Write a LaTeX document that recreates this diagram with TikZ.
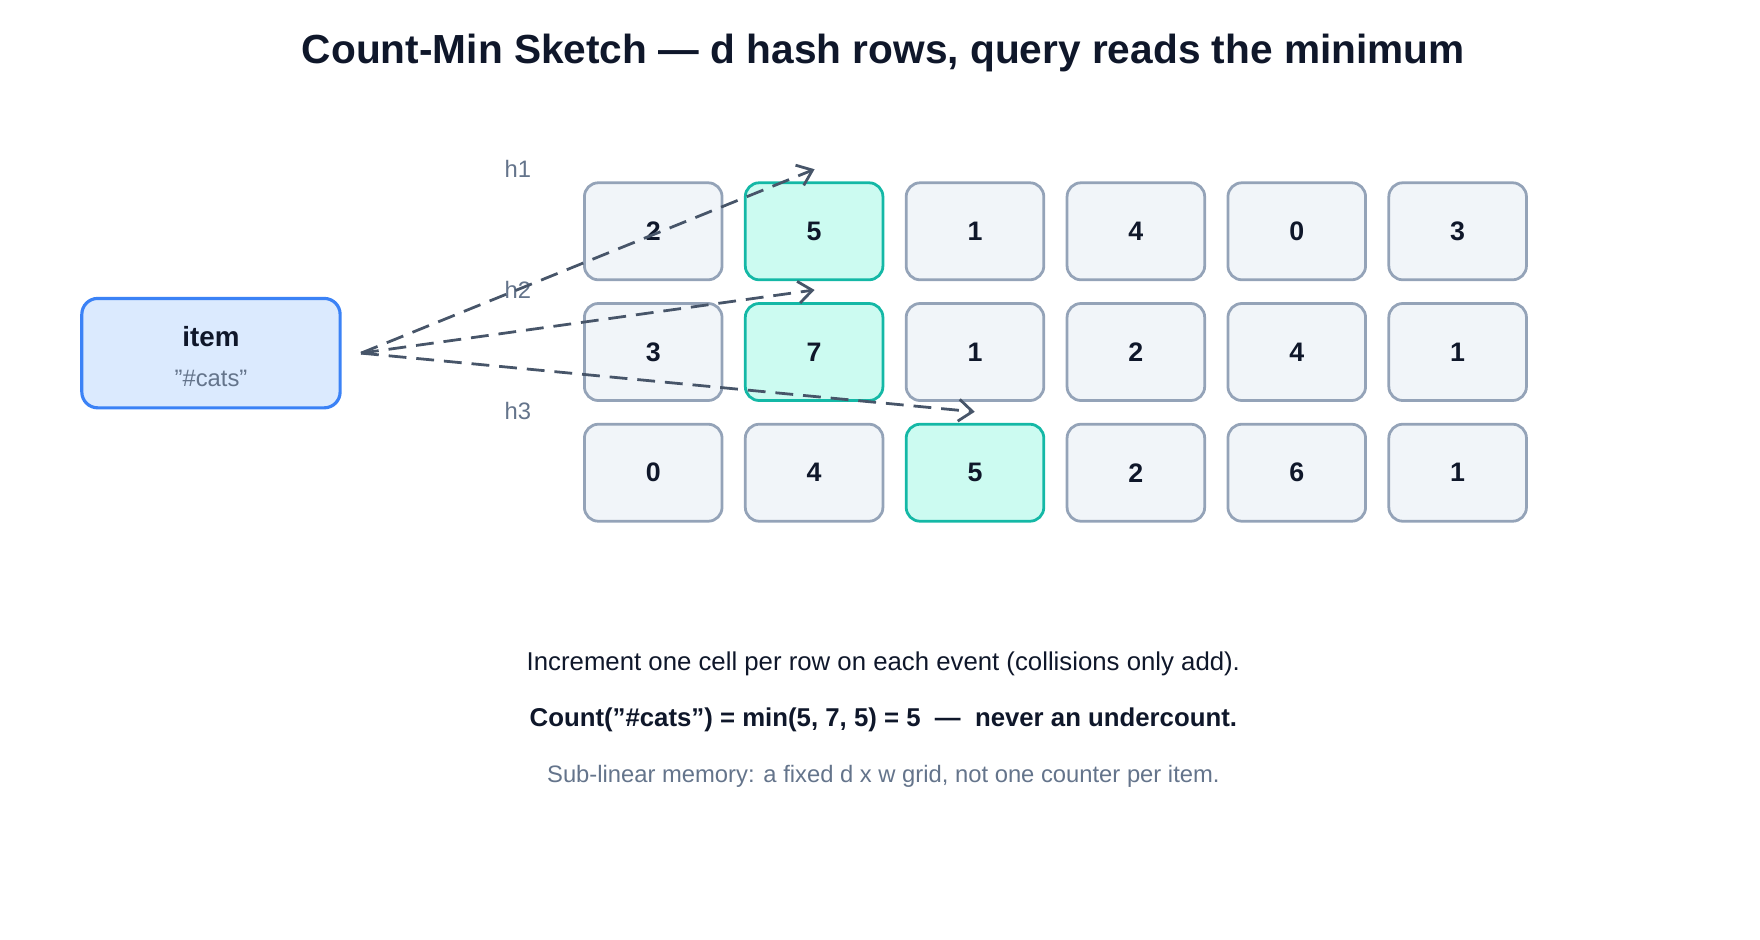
\documentclass[tikz,border=0pt]{standalone}
\usepackage{fontspec}
\setmainfont{Liberation Sans}
\usetikzlibrary{arrows.meta, positioning}
\definecolor{ink}{HTML}{0F172A}
\definecolor{slate}{HTML}{475569}
\definecolor{muted}{HTML}{64748B}
\definecolor{cellfill}{HTML}{F1F5F9}
\definecolor{cellline}{HTML}{94A3B8}
\definecolor{hitfill}{HTML}{CCFBF1}
\definecolor{hitline}{HTML}{14B8A6}
\definecolor{itemfill}{HTML}{DBEAFE}
\definecolor{itemline}{HTML}{3B82F6}
\tikzset{
    cell/.style={
        draw=cellline, fill=cellfill, line width=1.4pt,
        rounded corners=7pt, minimum width=2.44cm, minimum height=1.72cm,
        text=ink, font=\fontsize{13.5}{16}\selectfont\bfseries
    },
    hit/.style={cell, draw=hitline, fill=hitfill},
    hashlbl/.style={text=muted, font=\fontsize{12}{14}\selectfont},
    hasharrow/.style={draw=slate, line width=1.4pt, dash pattern=on 9pt off 5pt,
        -{Straight Barb[length=7pt, width=11pt]}}
}
\begin{document}
\begin{tikzpicture}[x=0.02cm, y=-0.02cm]
\useasboundingbox (0,0) rectangle (1560,833);
\node[text=ink, font=\fontsize{20.5}{24}\selectfont\bfseries] (title) at (783,47)
    {Count-Min Sketch — d hash rows, query reads the minimum};

\node[draw=itemline, fill=itemfill, line width=1.6pt, rounded corners=8pt,
      minimum width=4.58cm, minimum height=1.94cm] (item) at (187,313) {};
\node[text=ink, font=\fontsize{14}{16}\selectfont\bfseries] (itemname) at (187,298) {item};
\node[text=muted, font=\fontsize{12}{14}\selectfont] (itemkey) at (187,335) {"\#cats"};
\coordinate (src) at (320,313);

% counters, d = 3 rows by w = 6 columns
\foreach \r/\y/\vals/\h in {1/205/{2,5,1,4,0,3}/2, 2/312/{3,7,1,2,4,1}/2, 3/419/{0,4,5,2,6,1}/3}{
    \foreach \v [count=\c] in \vals {
        \ifnum\c=\h
            \node[hit]  (c\r\c) at ({579+142.6*(\c-1)},\y) {\v};
        \else
            \node[cell] (c\r\c) at ({579+142.6*(\c-1)},\y) {\v};
        \fi
    }
}

\node[hashlbl] (h1) at (459,150) {h1};
\node[hashlbl] (h2) at (459,257) {h2};
\node[hashlbl] (h3) at (459,364) {h3};

\coordinate (t1) at (722,150);
\coordinate (t2) at (722,257);
\coordinate (t3) at (864,365);
\draw[hasharrow] (src) -- (t1);
\draw[hasharrow] (src) -- (t2);
\draw[hasharrow] (src) -- (t3);

\node[text=ink, font=\fontsize{13}{15}\selectfont] (note1) at (783,588)
    {Increment one cell per row on each event (collisions only add).};
\node[text=ink, font=\fontsize{13}{15}\selectfont\bfseries] (note2) at (783,638)
    {Count("\#cats") = min(5, 7, 5) = 5 \ — \ never an undercount.};
\node[text=muted, font=\fontsize{12}{14}\selectfont] (note3) at (783,688)
    {Sub-linear memory: a fixed d x w grid, not one counter per item.};
\end{tikzpicture}
\end{document}
